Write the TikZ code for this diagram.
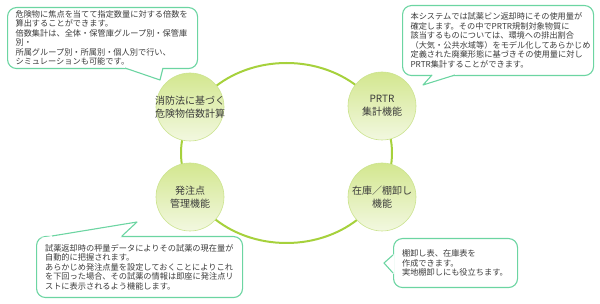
\documentclass[tikz,border=0pt]{standalone}
\usepackage{fontspec}
\setmainfont{Noto Sans CJK JP}
\usetikzlibrary{calc}

\definecolor{ringgreen}{HTML}{A6D13C}
\definecolor{bubbletop}{HTML}{D3E78F}
\definecolor{bubblebot}{HTML}{F2F8E0}
\definecolor{bubbleedge}{HTML}{CBE38E}
\definecolor{noteedge}{HTML}{6CD5A2}
\definecolor{inktext}{HTML}{3C3C3C}

% tail of a speech box: base point, tip, base point
\newcommand{\calltail}[3]{%
  \fill[white] ($(#2)!1.15!(#1)$) -- (#2) -- ($(#2)!1.15!(#3)$) -- cycle;
  \draw[tail] (#1) -- (#2) -- (#3);}

\begin{document}
\begin{tikzpicture}[
    x=1pt, y=-1pt,
    ring/.style={draw=ringgreen, line width=2pt},
    bubble/.style={circle, draw=bubbleedge, line width=0.6pt, top color=bubbletop, bottom color=bubblebot, minimum size=68pt, inner sep=0pt},
    bubbletext/.style={align=center, text=inktext, font=\fontsize{10}{13}\selectfont, inner sep=0pt},
    note/.style={draw=noteedge, line width=1.1pt, rounded corners=9pt, fill=white, text=inktext, font=\fontsize{8.2}{9.5}\selectfont, align=left, inner xsep=8pt, inner ysep=0pt, anchor=north west},
    tail/.style={draw=noteedge, line width=1.1pt, line join=round}
]
\useasboundingbox (0,0) rectangle (600,304);

% ring and the four functions
\coordinate (ringc) at (286.5,153);
\draw[ring] (ringc) ellipse [x radius=105.5, y radius=90];
\node[bubble] (shoubou) at (190,107) {};
\node[bubble] (prtr) at (382,106) {};
\node[bubble] (hacchu) at (190,197) {};
\node[bubble] (zaiko) at (382,197) {};
\node[bubbletext] (shoubou-t) at (shoubou) {消防法に基づく\\危険物倍数計算};
\node[bubbletext] (prtr-t) at (prtr) {PRTR\\集計機能};
\node[bubbletext] (hacchu-t) at (hacchu) {発注点\\管理機能};
\node[bubbletext] (zaiko-t) at (zaiko) {在庫／棚卸し\\機能};

% notes
\node[note, minimum width=190pt, minimum height=61pt, text width=174pt] (shoubou-n) at (7,7)
  {危険物に焦点を当てて指定数量に対する倍数を\\算出することができます。\\倍数集計は、全体・保管庫グループ別・保管庫\\別・\\所属グループ別・所属別・個人別で行い、\\シミュレーションも可能です。};
\node[note, minimum width=191pt, minimum height=70pt, text width=175pt] (prtr-n) at (402,5)
  {本システムでは試薬ビン返却時にその使用量が\\確定します。その中でPRTR規制対象物質に\\該当するものについては、環境への排出割合\\（大気・公共水域等）をモデル化してあらかじめ\\定義された廃棄形態に基づきその使用量に対し\\PRTR集計することができます。};
\node[note, minimum width=206pt, minimum height=61pt, text width=189pt, inner xsep=8.5pt] (hacchu-n) at (36,236)
  {試薬返却時の秤量データによりその試薬の現在量が\\自動的に把握されます。\\あらかじめ発注点量を設定しておくことによりこれ\\を下回った場合、その試薬の情報は即座に発注点リ\\ストに表示されるよう機能します。};
\node[note, minimum width=124pt, minimum height=49pt, text width=107pt, inner xsep=8.5pt] (zaiko-n) at (393,238)
  {棚卸し表、在庫表を\\作成できます。\\実地棚卸しにも役立ちます。};

% tails
\coordinate (t1a) at (125,68);
\coordinate (t1) at (160,80);
\coordinate (t1b) at (163,68);
\coordinate (t2a) at (432,75);
\coordinate (t2) at (423,85);
\coordinate (t2b) at (455,75);
\coordinate (t3a) at (52,236);
\coordinate (t3) at (137,222);
\coordinate (t3b) at (122,236);
\coordinate (t4a) at (393,255);
\coordinate (t4) at (384,263);
\coordinate (t4b) at (393,273);
\calltail{t1a}{t1}{t1b}
\calltail{t2a}{t2}{t2b}
\calltail{t3a}{t3}{t3b}
\calltail{t4a}{t4}{t4b}
\end{tikzpicture}
\end{document}
